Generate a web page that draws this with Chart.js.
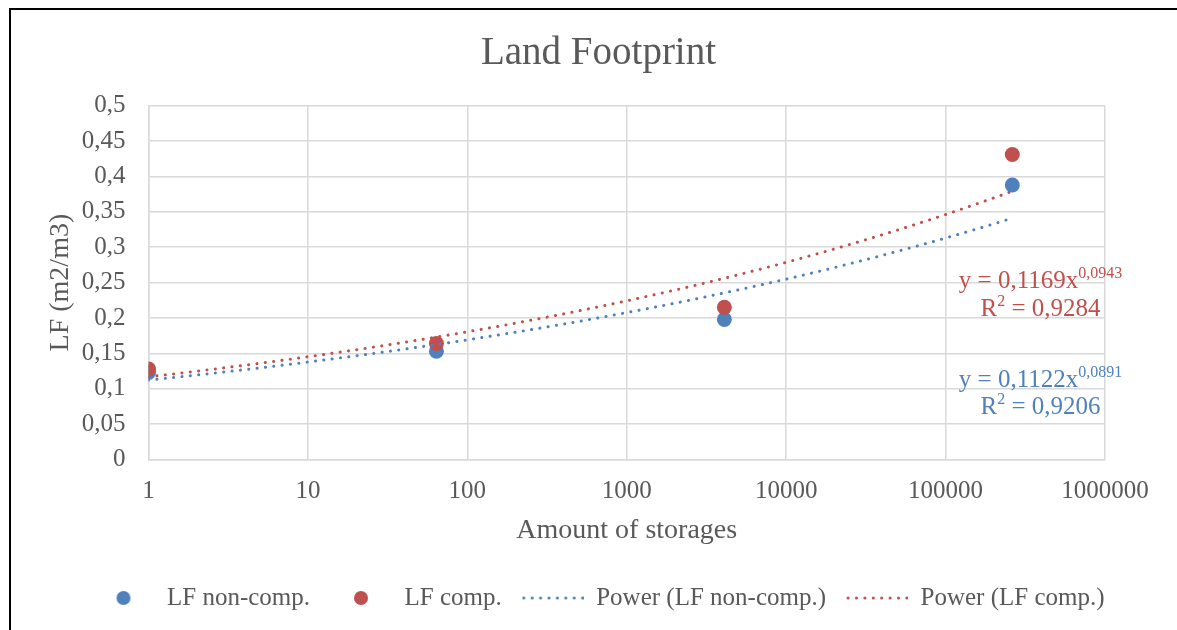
<!DOCTYPE html>
<html>
<head>
<meta charset="utf-8">
<title>Land Footprint</title>
<script src="https://cdn.jsdelivr.net/npm/chart.js@4.4.1/dist/chart.umd.min.js"></script>
<style>
  html, body { margin: 0; padding: 0; background: #ffffff; }
  canvas { display: block; }
</style>
</head>
<body>
<canvas id="lf" width="1177" height="630"></canvas>
<script>
// Number of storages (log axis) and land footprint per stored volume
const storages = [1, 64, 4096, 262144];
const lfNonComp = [0.123, 0.153, 0.198, 0.388];
const lfComp = [0.128, 0.164, 0.215, 0.431];

// Axis ticks
const xTickValues = [1, 10, 100, 1000, 10000, 100000, 1000000];
const yTickValues = [0, 0.05, 0.1, 0.15, 0.2, 0.25, 0.3, 0.35, 0.4, 0.45, 0.5];

// Power trendlines y = a * x^b  (index 0: non-comp., index 1: comp.)
const powerA = [0.1122, 0.1169];
const powerB = [0.0891, 0.0943];
const powerR2 = [0.9206, 0.9284];

const seriesNames = ['LF non-comp.', 'LF comp.', 'Power (LF non-comp.)', 'Power (LF comp.)'];

const BLUE = '#4f81bd';
const RED = '#c0504d';
const TEXT = '#595959';
const GRID = '#d9d9d9';
const FONT = '"Liberation Serif", "DejaVu Serif", serif';

const comma = v => String(v).replace('.', ',');

// Sample the fitted power curve across the measured range
function powerCurve(a, b) {
  const lo = Math.min(...storages), hi = Math.max(...storages);
  const n = 120;
  const pts = [];
  for (let i = 0; i <= n; i++) {
    const x = lo * Math.pow(hi / lo, i / n);
    pts.push({ x, y: a * Math.pow(x, b) });
  }
  return pts;
}

const toPoints = ys => storages.map((x, i) => ({ x, y: ys[i] }));

// Legend swatches: a filled dot for the markers, a dotted run for trendlines
function dotSwatch(color) {
  const c = document.createElement('canvas');
  c.width = 62; c.height = 16;
  const g = c.getContext('2d');
  g.fillStyle = color;
  g.beginPath(); g.arc(31, 8, 7, 0, Math.PI * 2); g.fill();
  return c;
}
function lineSwatch(color) {
  const c = document.createElement('canvas');
  c.width = 62; c.height = 6;
  const g = c.getContext('2d');
  g.strokeStyle = color; g.lineWidth = 3; g.lineCap = 'round';
  g.setLineDash([0.1, 8.3]);
  g.beginPath(); g.moveTo(2, 3); g.lineTo(61, 3); g.stroke();
  return c;
}
const swatches = [dotSwatch(BLUE), dotSwatch(RED), lineSwatch(BLUE), lineSwatch(RED)];

// White page with the black frame line on the left and top
const framePlugin = {
  id: 'frame',
  beforeDraw(chart) {
    const ctx = chart.ctx;
    ctx.save();
    ctx.fillStyle = '#ffffff';
    ctx.fillRect(0, 0, chart.width, chart.height);
    ctx.strokeStyle = '#000000';
    ctx.lineWidth = 2;
    ctx.beginPath();
    ctx.moveTo(10, chart.height + 2);
    ctx.lineTo(10, 9);
    ctx.lineTo(chart.width + 2, 9);
    ctx.stroke();
    ctx.restore();
  }
};

// Trendline equations with superscript exponents
const equationPlugin = {
  id: 'equations',
  afterDatasetsDraw(chart) {
    const ctx = chart.ctx;
    const y = chart.scales.y;
    const cx = chart.chartArea.right - 64.5;
    const mainFont = '25px ' + FONT;
    const supFont = '16px ' + FONT;
    const drawParts = (parts, baseline, color) => {
      let w = 0;
      parts.forEach(p => { ctx.font = p.sup ? supFont : mainFont; w += ctx.measureText(p.t).width; });
      let x = cx - w / 2;
      ctx.fillStyle = color;
      ctx.textBaseline = 'alphabetic';
      ctx.textAlign = 'left';
      parts.forEach(p => {
        ctx.font = p.sup ? supFont : mainFont;
        ctx.fillText(p.t, x, p.sup ? baseline - 10 : baseline);
        x += ctx.measureText(p.t).width;
      });
    };
    const anchors = [0.103, 0.242];
    const colors = [BLUE, RED];
    ctx.save();
    for (let k = 0; k < 2; k++) {
      const base = y.getPixelForValue(anchors[k]);
      drawParts([
        { t: 'y = ' + comma(powerA[k].toFixed(4)) + 'x' },
        { t: comma(powerB[k].toFixed(4)), sup: true }
      ], base, colors[k]);
      drawParts([
        { t: 'R' },
        { t: '2', sup: true },
        { t: ' = ' + comma(powerR2[k].toFixed(4)) }
      ], base + 27.5, colors[k]);
    }
    ctx.restore();
  }
};

new Chart(document.getElementById('lf'), {
  type: 'scatter',
  data: {
    datasets: [
      {
        label: seriesNames[0], data: toPoints(lfNonComp),
        backgroundColor: BLUE, borderColor: BLUE, pointRadius: 7.5, pointBorderWidth: 0,
        order: 3
      },
      {
        label: seriesNames[1], data: toPoints(lfComp),
        backgroundColor: RED, borderColor: RED, pointRadius: 7.5, pointBorderWidth: 0,
        order: 2
      },
      {
        label: seriesNames[2], data: powerCurve(powerA[0], powerB[0]),
        type: 'line', showLine: true, borderColor: BLUE, backgroundColor: BLUE,
        borderWidth: 3, borderDash: [0.1, 8.3], borderCapStyle: 'round',
        pointRadius: 0, tension: 0, fill: false, order: 1
      },
      {
        label: seriesNames[3], data: powerCurve(powerA[1], powerB[1]),
        type: 'line', showLine: true, borderColor: RED, backgroundColor: RED,
        borderWidth: 3, borderDash: [0.1, 8.3], borderCapStyle: 'round',
        pointRadius: 0, tension: 0, fill: false, order: 0
      }
    ]
  },
  options: {
    responsive: false,
    animation: false,
    events: [],
    layout: { padding: { left: 20, right: 0, top: 0, bottom: 9.5 } },
    scales: {
      x: {
        type: 'logarithmic',
        min: 1, max: 1000000,
        afterBuildTicks: s => { s.ticks = xTickValues.map(v => ({ value: v })); },
        afterFit: s => { s.height = 106; },
        ticks: {
          color: TEXT, font: { family: FONT, size: 25 }, padding: 17,
          autoSkip: false, maxRotation: 0,
          callback: v => String(v)
        },
        grid: { color: GRID, lineWidth: 1.5, drawTicks: false },
        border: { color: GRID, width: 1.5 },
        title: {
          display: true, text: 'Amount of storages', color: TEXT,
          font: { family: FONT, size: 28 }, padding: { top: 0, bottom: 18 }
        }
      },
      y: {
        min: 0, max: 0.5,
        afterBuildTicks: s => { s.ticks = yTickValues.map(v => ({ value: v })); },
        afterFit: s => { s.width = 128.5; },
        ticks: {
          color: TEXT, font: { family: FONT, size: 25 }, padding: 23,
          callback: v => comma(parseFloat(v.toFixed(2)))
        },
        grid: { color: GRID, lineWidth: 1.5, drawTicks: false },
        border: { color: GRID, width: 1.5 },
        title: {
          display: true, text: 'LF (m2/m3)', color: TEXT,
          font: { family: FONT, size: 28 }, padding: { top: 23.7, bottom: 0 }
        }
      },
      gap: {
        position: 'right', min: 0, max: 1,
        afterFit: s => { s.width = 72; },
        ticks: { display: false },
        grid: { display: false },
        border: { display: false }
      }
    },
    plugins: {
      title: {
        display: true, text: 'Land Footprint', color: TEXT,
        font: { family: FONT, size: 39, weight: 'normal', lineHeight: 1.2 },
        padding: { top: 30.6, bottom: 28.3 }
      },
      legend: {
        position: 'bottom',
        labels: {
          usePointStyle: true, pointStyleWidth: 62, padding: 20,
          color: TEXT, font: { family: FONT, size: 25 },
          sort: (a, b) => a.datasetIndex - b.datasetIndex,
          generateLabels: chart => {
            const items = Chart.defaults.plugins.legend.labels.generateLabels(chart);
            items.forEach(it => { it.pointStyle = swatches[it.datasetIndex]; it.lineWidth = 0; });
            return items;
          }
        }
      },
      tooltip: { enabled: false }
    }
  },
  plugins: [framePlugin, equationPlugin]
});
</script>
</body>
</html>
